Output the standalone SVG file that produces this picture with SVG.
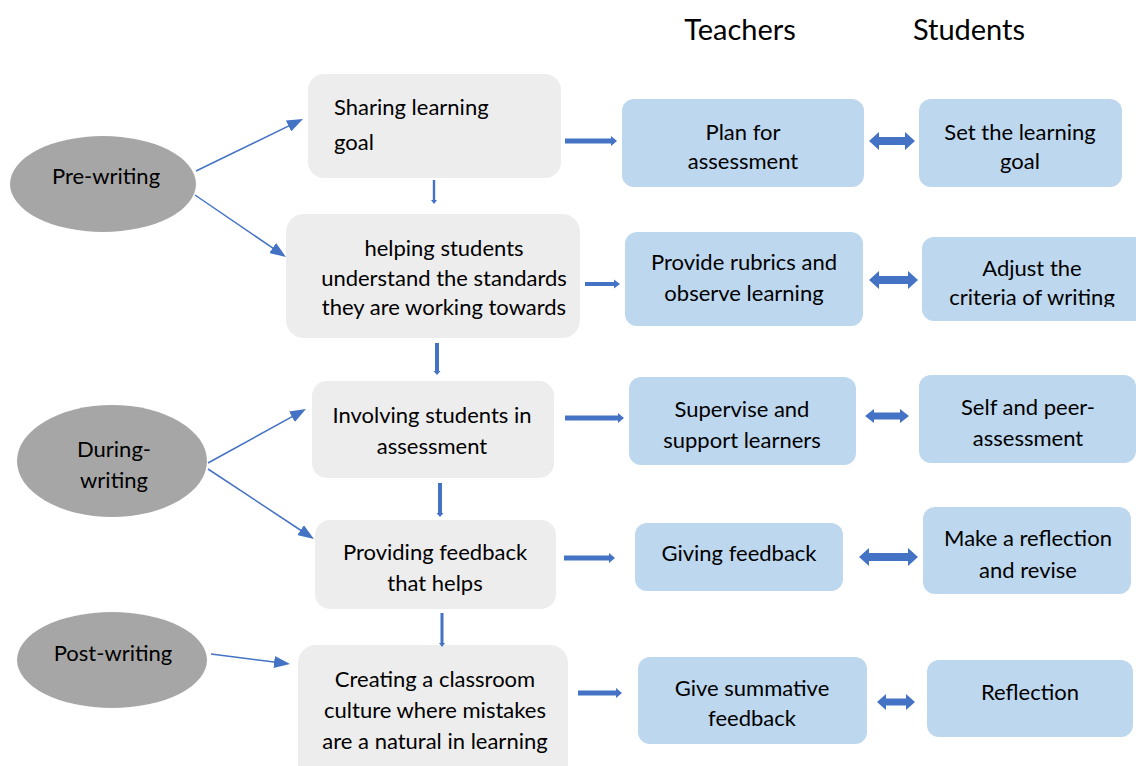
<svg xmlns="http://www.w3.org/2000/svg" width="1136" height="766" viewBox="0 0 1136 766">
<style>
text{font-family:Lato,"Liberation Sans",sans-serif;font-size:22px;fill:#000}
.c{text-anchor:middle}
.h{font-size:29px}
.ell{fill:#a6a6a6}
.grey{fill:#ededed}
.blue{fill:#bdd7ee}
.blk{fill:#4472c4}
.ln{stroke:#4472c4;stroke-width:1.5;fill:none}
</style>
<defs>
<marker id="ah" markerUnits="userSpaceOnUse" markerWidth="16" markerHeight="12" refX="6" refY="6" orient="auto">
<path d="M0,0 L16,6 L0,12 z" fill="#4472c4"/>
</marker>
<clipPath id="cut"><rect x="900" y="230" width="240" height="77"/></clipPath>
</defs>
<rect width="1136" height="766" fill="#fff"/>

<g id="headers">
<text class="c h" x="740" y="40">Teachers</text>
<text class="c h" x="969" y="40">Students</text>
</g>

<g id="pre-writing"><ellipse class="ell" cx="103" cy="184" rx="93" ry="48"/><text class="c" x="106" y="184">Pre-writing</text></g>
<g id="during-writing"><ellipse class="ell" cx="112" cy="461" rx="95" ry="56"/><text class="c" x="114" y="457">During-</text><text class="c" x="114" y="488">writing</text></g>
<g id="post-writing"><ellipse class="ell" cx="112" cy="660" rx="95" ry="48"/><text class="c" x="113" y="661">Post-writing</text></g>

<g id="sharing"><rect class="grey" x="308" y="74" width="253" height="104" rx="16"/><text x="334" y="115">Sharing learning</text><text x="334" y="150">goal</text></g>
<g id="helping"><rect class="grey" x="286" y="214" width="294" height="124" rx="18"/><text class="c" x="444" y="256">helping students</text><text class="c" x="444" y="286">understand the standards</text><text class="c" x="444" y="315">they are working towards</text></g>
<g id="involving"><rect class="grey" x="312" y="381" width="242" height="97" rx="15"/><text class="c" x="432" y="423">Involving students in</text><text class="c" x="432" y="454">assessment</text></g>
<g id="providing"><rect class="grey" x="315" y="520" width="241" height="89" rx="15"/><text class="c" x="435" y="560">Providing feedback</text><text class="c" x="435" y="591">that helps</text></g>
<g id="creating"><rect class="grey" x="298" y="645" width="270" height="140" rx="18"/><text class="c" x="435" y="687">Creating a classroom</text><text class="c" x="435" y="718">culture where mistakes</text><text class="c" x="435" y="749">are a natural in learning</text></g>

<g id="plan"><rect class="blue" x="622" y="99" width="242" height="88" rx="12"/><text class="c" x="743" y="140">Plan for</text><text class="c" x="743" y="169">assessment</text></g>
<g id="set-goal"><rect class="blue" x="919" y="99" width="203" height="88" rx="12"/><text class="c" x="1020" y="140">Set the learning</text><text class="c" x="1020" y="169">goal</text></g>
<g id="rubrics"><rect class="blue" x="625" y="232" width="238" height="94" rx="12"/><text class="c" x="744" y="270">Provide rubrics and</text><text class="c" x="744" y="301">observe learning</text></g>
<g id="adjust"><rect class="blue" x="922" y="237" width="230" height="84" rx="12"/><text class="c" x="1032" y="276">Adjust the</text><text class="c" x="1032" y="305" clip-path="url(#cut)">criteria of writing</text></g>
<g id="supervise"><rect class="blue" x="629" y="377" width="227" height="88" rx="12"/><text class="c" x="742" y="417">Supervise and</text><text class="c" x="742" y="448">support learners</text></g>
<g id="self-peer"><rect class="blue" x="919" y="375" width="217" height="88" rx="12"/><text class="c" x="1028" y="415">Self and peer-</text><text class="c" x="1028" y="446">assessment</text></g>
<g id="giving"><rect class="blue" x="635" y="523" width="208" height="68" rx="12"/><text class="c" x="739" y="561">Giving feedback</text></g>
<g id="make-reflection"><rect class="blue" x="923" y="507" width="208" height="87" rx="12"/><text class="c" x="1028" y="546">Make a reflection</text><text class="c" x="1028" y="578">and revise</text></g>
<g id="summative"><rect class="blue" x="638" y="657" width="229" height="87" rx="12"/><text class="c" x="752" y="696">Give summative</text><text class="c" x="752" y="726">feedback</text></g>
<g id="reflection"><rect class="blue" x="927" y="660" width="206" height="77" rx="12"/><text class="c" x="1030" y="700">Reflection</text></g>

<g id="connectors">
<line class="ln" x1="196" y1="171" x2="294" y2="123.4" marker-end="url(#ah)"/>
<line class="ln" x1="195" y1="195" x2="277.7" y2="251.4" marker-end="url(#ah)"/>
<line class="ln" x1="208" y1="463" x2="297.2" y2="413.8" marker-end="url(#ah)"/>
<line class="ln" x1="208" y1="469" x2="305.6" y2="533.5" marker-end="url(#ah)"/>
<line class="ln" x1="211" y1="654" x2="280.1" y2="662.7" marker-end="url(#ah)"/>

<polygon class="blk" points="432.8,180 435.2,180 435.2,200 437,200 434,204 431,200 432.8,200"/>
<polygon class="blk" points="435,343 439,343 439,371 440.5,371 437,375 433.5,371 435,371"/>
<polygon class="blk" points="438,483 442,483 442,513 443.5,513 440,517 436.5,513 438,513"/>
<polygon class="blk" points="440.5,613 443.5,613 443.5,643 445,643 442,647 439,643 440.5,643"/>

<polygon class="blk" points="565,138.5 611,138.5 611,136 617,141 611,146 611,143.5 565,143.5"/>
<polygon class="blk" points="585,282 614,282 614,279.5 620,284 614,288.5 614,286 585,286"/>
<polygon class="blk" points="565,415.5 618,415.5 618,413 624,418 618,423 618,420.5 565,420.5"/>
<polygon class="blk" points="564,555.5 609,555.5 609,553 615,558 609,563 609,560.5 564,560.5"/>
<polygon class="blk" points="578,690.5 616,690.5 616,688 622,693 616,698 616,695.5 578,695.5"/>

<polygon class="blk" points="869,141 879,132 879,137 905,137 905,132 915,141 905,150 905,145 879,145 879,150"/>
<polygon class="blk" points="869,280 879,271 879,276 908,276 908,271 918,280 908,289 908,284 879,284 879,289"/>
<polygon class="blk" points="865,416 874,409 874,412.5 900,412.5 900,409 909,416 900,423 900,419.5 874,419.5 874,423"/>
<polygon class="blk" points="859,557 869,548 869,553 908,553 908,548 918,557 908,566 908,561 869,561 869,566"/>
<polygon class="blk" points="877,702 886,694 886,698.5 906,698.5 906,694 915,702 906,710 906,705.5 886,705.5 886,710"/>
</g>
</svg>
